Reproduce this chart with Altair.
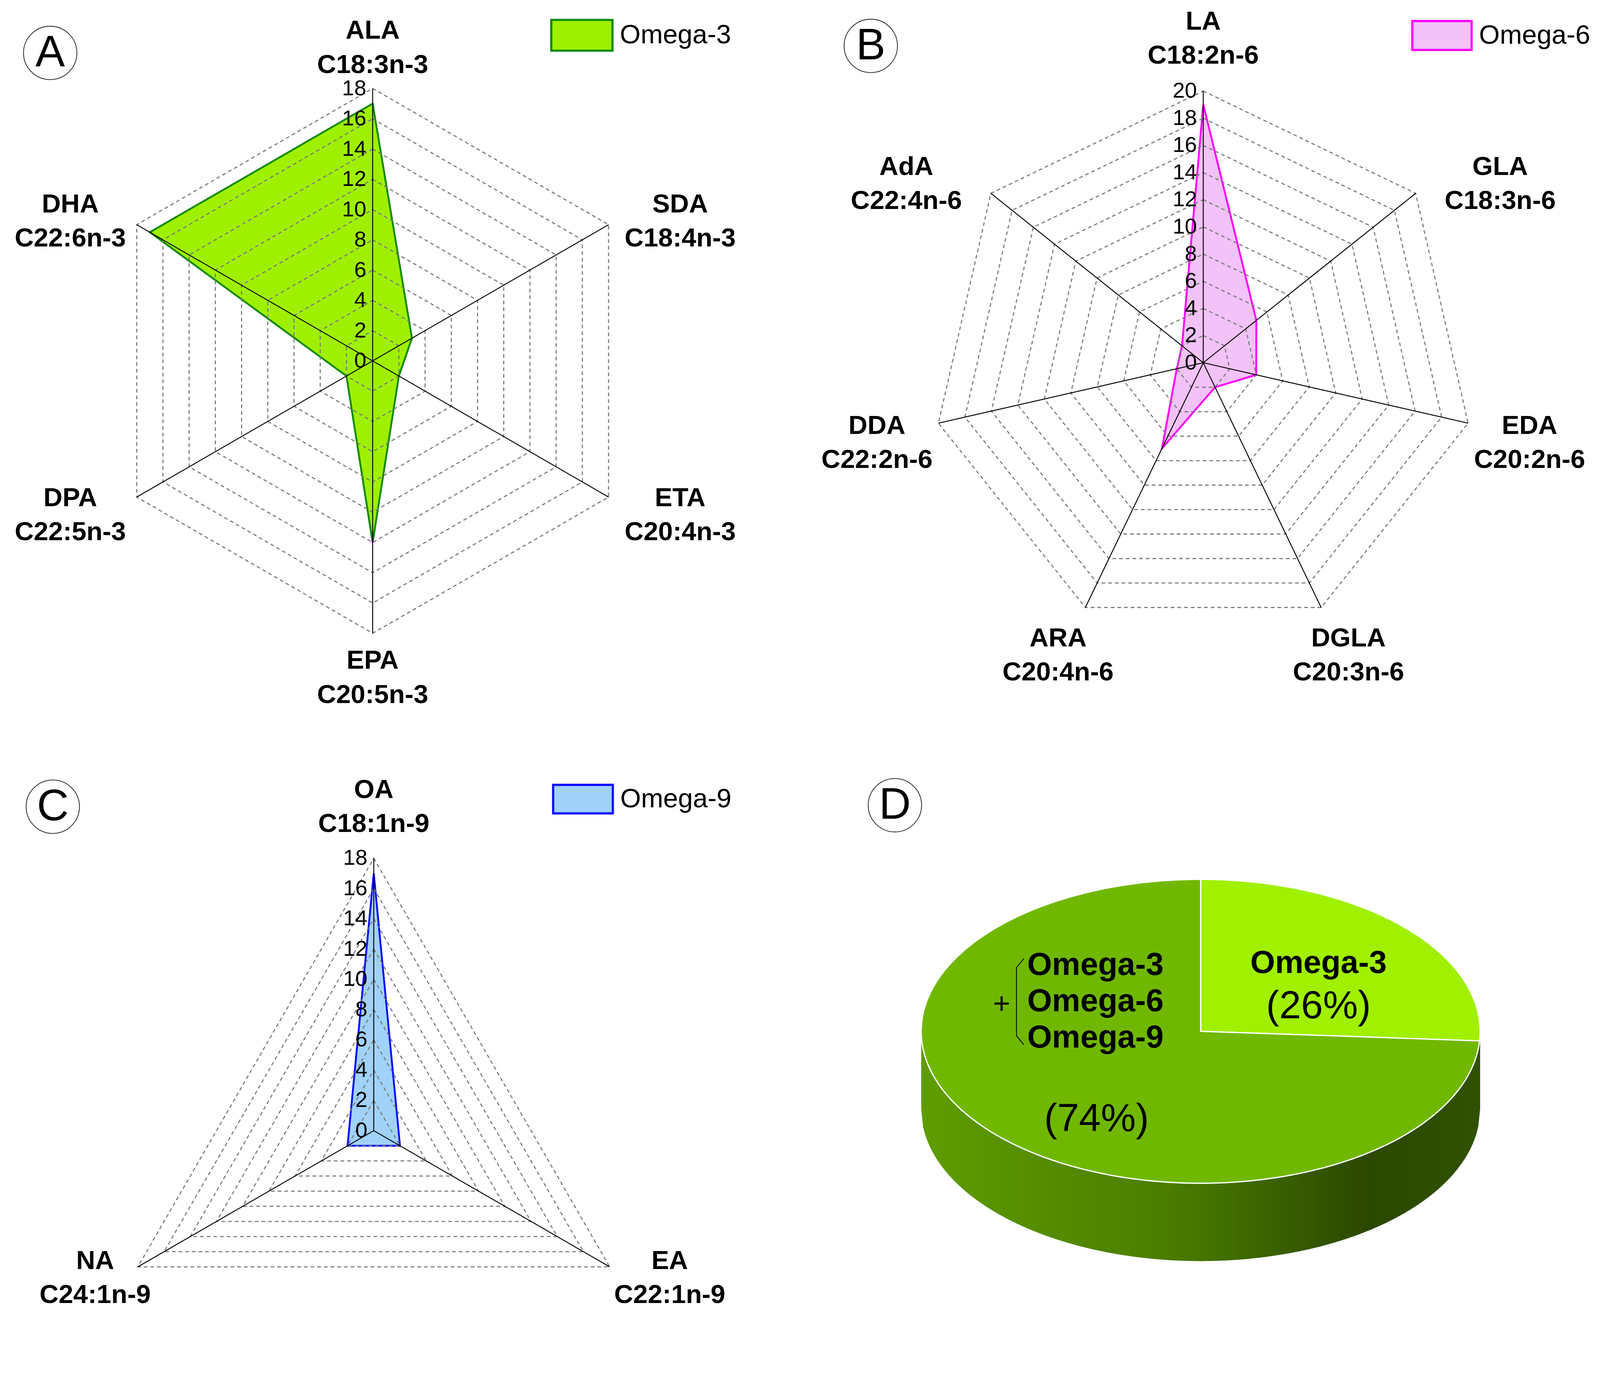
import numpy as np
import pandas as pd
import altair as alt

FONT = "Liberation Sans"

# ---------------- data ----------------
o3_names = ["ALA", "SDA", "ETA", "EPA", "DPA", "DHA"]
o3_codes = ["C18:3n-3", "C18:4n-3", "C20:4n-3", "C20:5n-3", "C22:5n-3", "C22:6n-3"]
o3_values = [17, 3, 2, 12, 2, 17]
o3_ticks = [0, 2, 4, 6, 8, 10, 12, 14, 16, 18]

o6_names = ["LA", "GLA", "EDA", "DGLA", "ARA", "DDA", "AdA"]
o6_codes = ["C18:2n-6", "C18:3n-6", "C20:2n-6", "C20:3n-6", "C20:4n-6", "C22:2n-6", "C22:4n-6"]
o6_values = [19, 5, 4, 2, 7, 2, 2]
o6_ticks = [0, 2, 4, 6, 8, 10, 12, 14, 16, 18, 20]

o9_names = ["OA", "EA", "NA"]
o9_codes = ["C18:1n-9", "C22:1n-9", "C24:1n-9"]
o9_values = [17, 2, 2]
o9_ticks = [0, 2, 4, 6, 8, 10, 12, 14, 16, 18]

pie_labels = ["Omega-3", "Omega-3 + Omega-6 + Omega-9"]
pie_shares = [26, 74]
pie_colors = ["#a0f000", "#70b800"]
combo_lines = ["Omega-3", "Omega-6", "Omega-9"]

# ---------------- layout (page pixels) ----------------
PAGE_W, PAGE_H = 4316, 3551
M = 8
X0, X1, Y0, Y1 = M, PAGE_W - M, M, PAGE_H - M
SHIFT = 97


def radar(names, codes, values, ticks, series, fill, stroke, letter,
          center, radius_px, letter_pos, legend_box, lab):
    """lab = (Hx, g, dx, Vy, c, e): label placement tuning in pixels."""
    Hx, g, ddx, Vy, cc, e = lab
    cx, cy = center
    vmax = ticks[-1]
    p = radius_px / vmax
    n = len(names)
    th = np.arange(n) * 2 * np.pi / n
    s, c = np.sin(th), np.cos(th)
    sx = alt.Scale(domain=[(X0 - cx) / p, (X1 - cx) / p], nice=False, zero=False)
    sy = alt.Scale(domain=[(cy - Y1) / p, (cy - Y0) / p], nice=False, zero=False)

    def X(f):
        return alt.X(f"{f}:Q", scale=sx, axis=None)

    def Y(f):
        return alt.Y(f"{f}:Q", scale=sy, axis=None)

    poly = pd.DataFrame({"name": names, "value": values, "k": range(n), "series": series})
    poly["x"] = poly["value"] * s
    poly["y"] = poly["value"] * c

    rows = []
    for lv in ticks[1:]:
        for k in range(n):
            rows.append({"level": lv, "k": k, "x": lv * s[k], "y": lv * c[k]})
    grid = pd.DataFrame(rows)

    spokes = pd.DataFrame({"x0": 0.0, "y0": 0.0, "x": vmax * s, "y": vmax * c})
    tdf = pd.DataFrame({"label": [str(t) for t in ticks], "x": 0.0, "y": ticks})
    offx = Hx * s + g * s * np.clip(c, 0, None) + ddx * np.abs(s)
    offy_down = -Vy * c * np.abs(c) + cc + e * s ** 2
    ldf = pd.DataFrame({
        "name": names, "code": codes,
        "x": vmax * s + offx / p,
        "y": vmax * c - offy_down / p,
    })
    letdf = pd.DataFrame({"letter": [letter],
                          "x": [(letter_pos[0] - cx) / p],
                          "y": [(cy - letter_pos[1]) / p]})

    bx0, bx1, by0, by1 = legend_box
    leg = pd.DataFrame({
        "series": [series],
        "x": [(bx0 - cx) / p], "x2": [(bx1 - cx) / p],
        "y": [(cy - by0) / p], "y2": [(cy - by1) / p],
        "tx": [(bx1 + 20 - cx) / p], "ty": [(cy - (by0 + by1) / 2) / p],
    })

    area = alt.Chart(poly).mark_line(
        interpolate="linear-closed", fill=fill, stroke=stroke, strokeWidth=5, strokeJoin="miter"
    ).encode(x=X("x"), y=Y("y"), order="k:Q")
    gridc = alt.Chart(grid).mark_line(
        interpolate="linear-closed", color="#7a7a7a", strokeWidth=3, strokeDash=[10, 8]
    ).encode(x=X("x"), y=Y("y"), detail="level:N", order="k:Q")
    spk = alt.Chart(spokes).mark_rule(color="black", strokeWidth=2.5).encode(
        x=X("x0"), y=Y("y0"), x2="x:Q", y2="y:Q")
    tk = alt.Chart(tdf).mark_text(
        align="right", baseline="middle", dx=-17, fontSize=59, font=FONT, color="black"
    ).encode(x=X("x"), y=Y("y"), text="label:N")
    l1 = alt.Chart(ldf).mark_text(
        fontSize=71, fontWeight="bold", font=FONT, dy=-46, baseline="middle", color="black"
    ).encode(x=X("x"), y=Y("y"), text="name:N")
    l2 = alt.Chart(ldf).mark_text(
        fontSize=71, fontWeight="bold", font=FONT, dy=46, baseline="middle", color="black"
    ).encode(x=X("x"), y=Y("y"), text="code:N")
    circ = alt.Chart(letdf).mark_point(
        shape="circle", size=144 * 144, filled=False, color="#333333", strokeWidth=2.2, opacity=1
    ).encode(x=X("x"), y=Y("y"))
    lt = alt.Chart(letdf).mark_text(
        fontSize=119, font=FONT, baseline="middle", color="black"
    ).encode(x=X("x"), y=Y("y"), text="letter:N")
    lbox = alt.Chart(leg).mark_rect(fill=fill, stroke=stroke, strokeWidth=6).encode(
        x=X("x"), x2="x2:Q", y=Y("y"), y2="y2:Q")
    ltxt = alt.Chart(leg).mark_text(
        fontSize=72, font=FONT, align="left", baseline="middle", color="black"
    ).encode(x=X("tx"), y=Y("ty"), text="series:N")

    return alt.layer(area, gridc, spk, tk, l1, l2, circ, lt, lbox, ltxt)


A = radar(o3_names, o3_codes, o3_values, o3_ticks, "Omega-3", "#9ff000", "#128a00", "A",
          (1005, 975), 735, (135, 144), (1487, 1652, 55, 138),
          (215, 0, 8, 115, 6, 20))
B = radar(o6_names, o6_codes, o6_values, o6_ticks, "Omega-6", "#f2c2f9", "#ff00ff", "B",
          (3246, 980), 733, (2349, 125), (3810, 3970, 58, 136),
          (170, 195, 0, 145, 4, 45))
C = radar(o9_names, o9_codes, o9_values, o9_ticks, "Omega-9", "#a0d2fa", "#0a0aff", "C",
          (1008, 3052), 735, (142, 2178), (1492, 1653, 2119, 2196),
          (160, 0, 27, 135, -3, 0))


# ---------------- panel D: 3-D pie ----------------
def pie_panel():
    cx, cy = 3239, 2784
    rx, ry, depth = 754, 410, 210
    k = ry / rx
    d = depth / rx
    sx = alt.Scale(domain=[(X0 - cx) / rx, (X1 - cx) / rx], nice=False, zero=False)
    sy = alt.Scale(domain=[(cy - Y1) / rx, (cy - Y0) / rx], nice=False, zero=False)

    def X(f):
        return alt.X(f"{f}:Q", scale=sx, axis=None)

    def Y(f):
        return alt.Y(f"{f}:Q", scale=sy, axis=None)

    def U(px, py):
        return (px - cx) / rx, (cy - py) / rx

    t = np.linspace(-1, 1, 301)
    side = pd.DataFrame({"x": t, "y": -k * np.sqrt(np.clip(1 - t ** 2, 0, None))})
    side["y2"] = side["y"] - d
    wall = alt.Chart(side).mark_area(
        color=alt.Gradient(
            gradient="linear",
            stops=[alt.GradientStop(color="#5f9c00", offset=0),
                   alt.GradientStop(color="#4a7c00", offset=0.45),
                   alt.GradientStop(color="#2b4800", offset=0.8),
                   alt.GradientStop(color="#2f5200", offset=1)],
            x1=0, x2=1, y1=0, y2=0),
    ).encode(x=X("x"), y=Y("y"), y2="y2:Q")

    layers = [wall]
    edges = np.concatenate([[0], np.cumsum(pie_shares)]) / sum(pie_shares) * 2 * np.pi
    for i, lab in enumerate(pie_labels):
        a = np.linspace(edges[i], edges[i + 1], 200)
        df = pd.DataFrame({"x": np.concatenate([[0], np.sin(a)]),
                           "y": np.concatenate([[0], k * np.cos(a)])})
        df["j"] = range(len(df))
        df["slice"] = lab
        layers.append(alt.Chart(df).mark_line(
            interpolate="linear-closed", fill=pie_colors[i], stroke="white",
            strokeWidth=3.5, strokeJoin="round"
        ).encode(x=X("x"), y=Y("y"), order="j:Q"))

    ux, uy = U(3557, 2601)
    ux2, uy2 = U(3557, 2717)
    ux3, uy3 = U(2958, 3021)
    t1 = pd.DataFrame({"t": [pie_labels[0]], "x": [ux], "y": [uy]})
    t2 = pd.DataFrame({"t": [f"({pie_shares[0]}%)", f"({pie_shares[1]}%)"],
                       "x": [ux2, ux3], "y": [uy2, uy3]})
    cy_lines = [2606, 2704, 2802]
    t3 = pd.DataFrame({"t": combo_lines,
                       "x": [U(2771, 0)[0]] * 3,
                       "y": [U(0, v)[1] for v in cy_lines]})
    px_, py_ = U(2702, 2712)
    t4 = pd.DataFrame({"t": ["+"], "x": [px_], "y": [py_]})
    bx, btop = U(2742, 2612)
    _, bbot = U(0, 2796)
    bx2, btop2 = U(2762, 2588)
    _, bbot2 = U(0, 2820)
    brace = pd.DataFrame({"x0": [bx, bx, bx], "y0": [btop, btop, bbot],
                          "x1": [bx, bx2, bx2], "y1": [bbot, btop2, bbot2]})
    lx, ly = U(2414, 2174)
    letdf = pd.DataFrame({"letter": ["D"], "x": [lx], "y": [ly]})

    layers += [
        alt.Chart(t1).mark_text(fontSize=86, fontWeight="bold", font=FONT, baseline="middle",
                                color="black").encode(x=X("x"), y=Y("y"), text="t:N"),
        alt.Chart(t2).mark_text(fontSize=106, font=FONT, baseline="middle",
                                color="black").encode(x=X("x"), y=Y("y"), text="t:N"),
        alt.Chart(t3).mark_text(fontSize=86, fontWeight="bold", font=FONT, baseline="middle",
                                align="left", color="black").encode(x=X("x"), y=Y("y"), text="t:N"),
        alt.Chart(t4).mark_text(fontSize=80, font=FONT, baseline="middle",
                                color="black").encode(x=X("x"), y=Y("y"), text="t:N"),
        alt.Chart(brace).mark_rule(color="black", strokeWidth=2.2).encode(
            x=X("x0"), y=Y("y0"), x2="x1:Q", y2="y1:Q"),
        alt.Chart(letdf).mark_point(shape="circle", size=144 * 144, filled=False,
                                    color="#333333", strokeWidth=2.2, opacity=1
                                    ).encode(x=X("x"), y=Y("y")),
        alt.Chart(letdf).mark_text(fontSize=119, font=FONT, baseline="middle",
                                   color="black").encode(x=X("x"), y=Y("y"), text="letter:N"),
    ]
    return alt.layer(*layers)


D = pie_panel()

chart = alt.layer(A, B, C, D).resolve_scale(x="independent", y="independent").properties(
    width=X1 - X0, height=Y1 - Y0,
    autosize=alt.AutoSizeParams(type="none"),
    padding={"top": -SHIFT, "bottom": SHIFT, "left": 0, "right": 0},
    background="white",
).configure_view(strokeWidth=0)

chart.save("out.html", embed_options={"renderer": "svg", "actions": False})
